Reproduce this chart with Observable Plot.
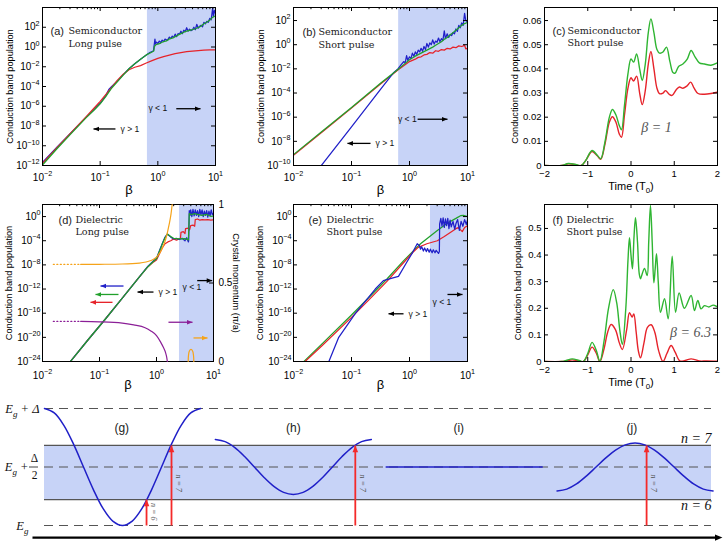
<!DOCTYPE html>
<html>
<head>
<meta charset="utf-8">
<script src="https://cdn.jsdelivr.net/npm/d3@7"></script>
<script src="https://cdn.jsdelivr.net/npm/@observablehq/plot@0.6"></script>
<style>
  html, body { margin: 0; padding: 0; background: #fff; }
  #fig { position: relative; width: 724px; height: 541px; overflow: hidden; background: #fff; }
  #fig svg { position: absolute; overflow: visible; }
</style>
</head>
<body>
<div id="fig"></div>
<script>
// ---------- data: [log10 β, log10 population] ----------
// (a) semiconductor, long pulse
const aBlue = [[-2,-11.7],[-1.75,-10.15],[-1.5,-8.65],[-1.25,-7.15],[-1.1,-6.3],[-1.0,-5.7],[-0.9,-4.9],[-0.85,-4.3],[-0.8,-4.0],[-0.7,-3.45],[-0.6,-2.8],[-0.5,-2.2],[-0.4,-1.7],[-0.3,-1.25],[-0.2,-0.8],[-0.15,-0.6],[-0.1,-0.45],[-0.075,-0.38],[-0.06,0.35],[-0.05,0.8],[-0.04,0.3],[-0.025,0.5],[0,0.35],[0.025,0.6],[0.05,0.45],[0.075,0.7],[0.1,0.55],[0.125,0.8],[0.15,0.7],[0.175,0.75],[0.2,1.0],[0.225,0.85],[0.25,1.1],[0.275,0.95],[0.3,1.3],[0.325,1.05],[0.35,1.35],[0.375,1.3],[0.4,1.6],[0.425,1.35],[0.45,1.7],[0.475,1.55],[0.5,1.95],[0.525,1.6],[0.55,1.8],[0.575,1.65],[0.6,1.75],[0.625,2.0],[0.65,1.75],[0.675,2.3],[0.7,1.9],[0.725,2.1],[0.75,2.2],[0.775,2.05],[0.8,2.5],[0.825,2.35],[0.85,2.6],[0.875,2.5],[0.9,2.9],[0.925,2.75],[0.95,3.9],[0.965,3.1],[0.98,3.7],[1.0,3.4]];
const aRed = [[-2,-11.8],[-1.75,-10.2],[-1.5,-8.65],[-1.25,-7.1],[-1.1,-6.15],[-1.0,-5.5],[-0.9,-4.8],[-0.8,-4.1],[-0.7,-3.35],[-0.6,-2.75],[-0.5,-2.3],[-0.4,-2.05],[-0.3,-1.88],[-0.2,-1.62],[-0.1,-1.38],[0,-1.15],[0.1,-0.97],[0.2,-0.82],[0.3,-0.68],[0.4,-0.57],[0.5,-0.48],[0.6,-0.41],[0.7,-0.36],[0.8,-0.32],[0.9,-0.3],[1.0,-0.3]];
const aGreen = [[-2,-11.95],[-1.75,-10.3],[-1.5,-8.75],[-1.25,-7.2],[-1.1,-6.35],[-1.0,-5.75],[-0.9,-5.0],[-0.8,-4.15],[-0.7,-3.5],[-0.6,-2.85],[-0.5,-2.2],[-0.4,-1.7],[-0.3,-1.25],[-0.2,-0.8],[-0.1,-0.5],[-0.07,-0.4],[-0.06,0.05],[-0.04,0.2],[0,0.3],[0.05,0.4],[0.1,0.55],[0.15,0.62],[0.2,0.82],[0.25,0.9],[0.3,1.05],[0.35,1.2],[0.4,1.35],[0.45,1.5],[0.5,1.6],[0.55,1.68],[0.6,1.75],[0.65,1.85],[0.7,1.98],[0.75,2.12],[0.8,2.35],[0.85,2.5],[0.9,2.72],[0.95,3.0],[1.0,3.15]];

// (b) semiconductor, short pulse
const bBlue = [[-1.52,-10],[-1.0,-6.8],[-0.5,-3.7],[-0.27,-2.3],[-0.2,-2.0],[-0.15,-1.7],[-0.1,-1.4],[-0.075,-1.5],[-0.05,-0.9],[-0.03,-1.3],[0,-1.0],[0.025,-1.15],[0.05,-0.7],[0.075,-0.95],[0.1,-0.6],[0.125,-0.8],[0.15,-0.45],[0.175,-0.6],[0.2,-0.3],[0.225,-0.55],[0.25,-0.15],[0.275,-0.4],[0.3,0.1],[0.325,-0.2],[0.35,0.15],[0.375,0.0],[0.4,0.4],[0.425,0.05],[0.45,0.3],[0.475,0.2],[0.5,0.55],[0.525,0.25],[0.55,0.5],[0.575,0.35],[0.6,1.15],[0.62,0.5],[0.65,0.9],[0.675,0.6],[0.7,0.85],[0.725,0.75],[0.75,1.0],[0.775,0.9],[0.8,1.3],[0.825,1.1],[0.85,1.6],[0.875,1.4],[0.9,1.8],[0.925,1.6],[0.95,2.6],[0.97,2.0],[1.0,1.9]];
const bRed = [[-2,-9.15],[-1.5,-7.2],[-1,-5.25],[-0.5,-3.25],[-0.2,-2.1],[-0.1,-1.75],[0,-1.4],[0.05,-1.3],[0.1,-1.2],[0.15,-1.05],[0.2,-1.0],[0.25,-0.85],[0.3,-0.8],[0.35,-0.65],[0.4,-0.7],[0.45,-0.5],[0.5,-0.55],[0.55,-0.4],[0.6,-0.45],[0.65,-0.3],[0.7,-0.35],[0.75,-0.2],[0.8,-0.25],[0.85,-0.1],[0.9,-0.15],[0.95,-0.05],[0.97,-0.35],[1.0,-0.3]];
const bGreen = [[-2,-9.1],[-1.5,-7.15],[-1,-5.2],[-0.5,-3.2],[-0.2,-2.05],[-0.1,-1.65],[0,-1.25],[0.1,-0.95],[0.2,-0.7],[0.3,-0.45],[0.4,-0.2],[0.45,-0.05],[0.5,0.1],[0.55,0.25],[0.6,0.45],[0.65,0.6],[0.7,0.8],[0.75,1.0],[0.8,1.2],[0.85,1.4],[0.9,1.6],[0.95,1.75],[1.0,1.85]];

// (d) dielectric, long pulse
const dRed = [[-1.51,-24],[-1.2,-20.4],[-0.9,-17],[-0.6,-13.5],[-0.3,-10],[-0.15,-8.3],[-0.05,-7.5],[0.0,-7.2],[0.05,-6.2],[0.1,-5.2],[0.15,-4.5],[0.2,-4.2],[0.25,-4.0],[0.3,-3.7],[0.35,-3.9],[0.4,-3.7],[0.42,-3.6],[0.43,-2.6],[0.47,-2.5],[0.5,-2.8],[0.51,-2.0],[0.56,-1.9],[0.58,-2.2],[0.6,-1.5],[0.64,-1.4],[0.67,-1.6],[0.68,-0.5],[0.72,-0.4],[0.76,-0.6],[0.8,-0.5],[0.85,-0.55],[0.9,-0.5],[0.95,-0.6],[1.0,-0.55]];
const dBlue = [[-1.51,-24],[-1.2,-20.4],[-0.9,-17],[-0.6,-13.5],[-0.3,-10],[-0.15,-8.2],[-0.05,-7.3],[0.0,-6.9],[0.05,-5.7],[0.1,-4.5],[0.15,-3.4],[0.19,-2.9],[0.25,-3.4],[0.3,-3.7],[0.35,-3.6],[0.4,-3.8],[0.45,-3.6],[0.5,-4.0],[0.53,-3.5],[0.56,-4.2],[0.565,-3.9],[0.575,1.0],[0.59,0.2],[0.6,1.1],[0.62,0.0],[0.64,1.2],[0.66,0.1],[0.68,1.1],[0.7,0.2],[0.72,1.0],[0.74,0.0],[0.76,1.2],[0.78,0.3],[0.8,1.1],[0.82,0.0],[0.84,0.9],[0.86,0.2],[0.88,1.0],[0.9,-0.1],[0.92,0.9],[0.94,0.1],[0.96,1.1],[0.98,0.3],[1.0,0.5]];
const dGreen = [[-1.51,-24],[-1.2,-20.4],[-0.9,-17],[-0.6,-13.5],[-0.3,-10],[-0.15,-8.3],[-0.05,-7.4],[0.0,-7.0],[0.05,-5.8],[0.1,-4.6],[0.15,-3.5],[0.19,-2.9],[0.25,-3.3],[0.3,-3.6],[0.4,-3.7],[0.5,-3.65],[0.56,-3.85],[0.575,0.5],[0.62,0.3],[0.66,0.5],[0.72,0.35],[0.8,0.2],[0.88,0.35],[0.95,0.05],[1.0,0.1]];
// crystal momentum (π/a), right-hand axis of (d): [log10 β, k]
const dOrangeDotted = [[-1.81,0.618],[-1.33,0.618]];
const dOrange = [[-1.33,0.618],[-1.0,0.619],[-0.6,0.621],[-0.3,0.627],[-0.1,0.643],[0.0,0.665],[0.1,0.72],[0.17,0.79],[0.22,0.87],[0.255,0.94],[0.275,1.0]];
const dOrangeLate = [[0.556,0],[0.56,0.035],[0.575,0.065],[0.605,0.078],[0.635,0.065],[0.65,0.035],[0.655,0]];
const dPurpleDotted = [[-1.81,0.255],[-1.33,0.255]];
const dPurple = [[-1.33,0.255],[-1.0,0.253],[-0.6,0.245],[-0.4,0.233],[-0.2,0.215],[-0.1,0.195],[0.0,0.165],[0.07,0.125],[0.12,0.09],[0.16,0.055],[0.18,0.025],[0.19,0.0]];

// (e) dielectric, short pulse
const eGreen = [[-1.82,-24],[-1.5,-21],[-1.0,-16.3],[-0.7,-13.4],[-0.385,-10.3],[-0.1,-7.3],[0.19,-4.5],[0.48,-2.3],[0.65,-1.1],[0.8,-0.3],[0.88,0.15],[0.93,0.2],[1.0,0.0]];
const eRed = [[-1.8,-24],[-1.5,-21.3],[-1.0,-16.7],[-0.7,-13.8],[-0.385,-10.7],[-0.1,-7.6],[0.05,-6.0],[0.15,-5.1],[0.3,-4.5],[0.48,-4.0],[0.6,-3.3],[0.71,-2.6],[0.8,-2.0],[0.84,-1.8],[0.88,-2.2],[0.91,-2.5],[0.95,-1.8],[1.0,-1.5]];
const eBlue = [[-1.39,-24],[-1.22,-20],[-0.93,-16],[-0.59,-12],[-0.45,-10.6],[-0.3,-10.2],[-0.19,-9.9],[-0.05,-7.6],[0.05,-6.0],[0.133,-4.5],[0.17,-4.8],[0.19,-5.4],[0.21,-5.0],[0.24,-5.7],[0.26,-5.2],[0.29,-5.8],[0.31,-5.3],[0.34,-5.9],[0.36,-5.4],[0.39,-6.0],[0.41,-5.5],[0.44,-6.0],[0.46,-5.6],[0.5,-6.1],[0.515,-5.8],[0.52,-1.2],[0.54,-0.3],[0.56,-1.6],[0.58,-0.2],[0.6,-1.8],[0.62,-0.4],[0.64,-1.5],[0.66,-0.3],[0.68,-2.0],[0.7,-0.6],[0.72,-1.7],[0.75,-0.8],[0.78,-2.1],[0.8,-1.2],[0.83,-0.5],[0.86,-2.3],[0.89,-0.8],[0.92,-1.6],[0.95,-0.5],[0.98,-1.3],[1.0,-0.6]];

// β at which γ = 1 (start of the shaded tunnelling region)
const gammaOne = {a: 0.66, b: 0.65, d: 2.53, e: 2.3};

// ---------- data: [time (T0), population] ----------
const cGreen = [[-2,0],[-1.6,0],[-1.45,0.0008],[-1.3,0.0005],[-1.15,0],[-1.05,0.002],[-0.9,0.0062],[-0.78,0.0042],[-0.7,0.0028],[-0.6,0.01],[-0.5,0.02],[-0.43,0.0232],[-0.35,0.021],[-0.27,0.0165],[-0.22,0.0148],[-0.15,0.025],[-0.07,0.038],[0,0.0441],[0.06,0.0428],[0.13,0.0462],[0.2,0.04],[0.26,0.0352],[0.33,0.042],[0.4,0.055],[0.46,0.0607],[0.53,0.055],[0.6,0.048],[0.66,0.0465],[0.74,0.047],[0.82,0.049],[0.9,0.043],[0.97,0.0385],[1.02,0.0382],[1.1,0.041],[1.2,0.042],[1.3,0.044],[1.39,0.0476],[1.48,0.045],[1.58,0.0425],[1.7,0.042],[1.85,0.0415],[2,0.0425]];
const cRed = [[-2,0],[-1.6,0],[-1.45,0.0007],[-1.3,0.0004],[-1.15,0],[-1.05,0.002],[-0.9,0.0058],[-0.78,0.004],[-0.7,0.0026],[-0.6,0.009],[-0.5,0.018],[-0.43,0.0202],[-0.35,0.018],[-0.27,0.013],[-0.22,0.0117],[-0.15,0.021],[-0.07,0.032],[0,0.0363],[0.06,0.035],[0.13,0.037],[0.2,0.03],[0.26,0.0252],[0.33,0.031],[0.4,0.042],[0.46,0.0472],[0.53,0.04],[0.6,0.032],[0.66,0.0297],[0.74,0.03],[0.8,0.031],[0.88,0.0295],[0.95,0.029],[1.05,0.0315],[1.12,0.0325],[1.2,0.032],[1.3,0.033],[1.38,0.0345],[1.46,0.032],[1.55,0.0298],[1.7,0.0295],[1.85,0.0298],[2,0.0304]];
const fGreen = [[-2,0],[-1.6,0],[-1.5,0.004],[-1.36,0.01],[-1.2,0.004],[-1.1,0],[-1.0,0.03],[-0.9,0.072],[-0.8,0.04],[-0.72,0],[-0.62,0.08],[-0.52,0.2],[-0.41,0.27],[-0.33,0.22],[-0.26,0.12],[-0.2,0.064],[-0.12,0.2],[-0.07,0.38],[-0.035,0.465],[0.0,0.4],[0.034,0.348],[0.07,0.47],[0.104,0.54],[0.15,0.45],[0.19,0.33],[0.22,0.311],[0.26,0.33],[0.313,0.35],[0.374,0.323],[0.41,0.45],[0.45,0.586],[0.49,0.45],[0.528,0.296],[0.56,0.35],[0.59,0.405],[0.63,0.3],[0.682,0.185],[0.775,0.236],[0.86,0.16],[0.952,0.396],[1.03,0.185],[1.113,0.258],[1.235,0.2],[1.39,0.248],[1.467,0.191],[1.545,0.229],[1.62,0.198],[1.7,0.21],[1.8,0.205],[1.9,0.212],[2,0.205]];
const fRed = [[-2,0],[-1.6,0],[-1.5,0.002],[-1.36,0.006],[-1.2,0.002],[-1.1,0],[-1.0,0.025],[-0.9,0.054],[-0.8,0.03],[-0.72,0],[-0.62,0.05],[-0.54,0.11],[-0.46,0.139],[-0.36,0.12],[-0.27,0.07],[-0.2,0.045],[-0.1,0.12],[-0.035,0.183],[0.027,0.167],[0.065,0.179],[0.12,0.11],[0.17,0.04],[0.22,0.014],[0.3,0.07],[0.38,0.128],[0.466,0.138],[0.55,0.11],[0.64,0.04],[0.74,0.0],[0.83,0.03],[0.928,0.06],[1.02,0.035],[1.13,0.002],[1.25,0.004],[1.39,0.01],[1.48,0.007],[1.58,0.002],[1.75,0.002],[2,0.001]];

// ---------- schematic bands: energy in units of Δ above E_g ----------
const kGrid = [-1,-0.875,-0.75,-0.625,-0.5,-0.375,-0.25,-0.125,0,0.125,0.25,0.375,0.5,0.625,0.75,0.875,1];
const gBand = [1,0.962,0.854,0.691,0.5,0.309,0.146,0.038,0,0.038,0.146,0.309,0.5,0.691,0.854,0.962,1];
const hBand = [0.735,0.717,0.666,0.59,0.5,0.41,0.334,0.283,0.265,0.283,0.334,0.41,0.5,0.59,0.666,0.717,0.735];
const iBand = [0.5,0.5,0.5,0.5,0.5,0.5,0.5,0.5,0.5,0.5,0.5,0.5,0.5,0.5,0.5,0.5,0.5];
const jBand = [0.295,0.311,0.355,0.422,0.5,0.578,0.645,0.689,0.705,0.689,0.645,0.578,0.5,0.422,0.355,0.311,0.295];
const photonLevels = {n6: 0.222, n7: 0.684};
const zoneNames = ["(g)", "(h)", "(i)", "(j)"];
// pump transitions: zone index, crystal momentum, photon number
const pumps = [{zone: 0, k: 0.308, n: 6}, {zone: 0, k: 0.628, n: 7}, {zone: 1, k: 0.794, n: 7}, {zone: 3, k: 0.148, n: 7}];

// ---------- styling ----------
const SANS = '"Liberation Sans", Arial, Helvetica, sans-serif';
const SERIF = '"DejaVu Serif", "Liberation Serif", serif';
const MATHF = '"Liberation Serif", "DejaVu Serif", serif';
const C = {red: "#e6232a", green: "#21a02b", blue: "#2020c8", orange: "#f5a31a", purple: "#8b1f97",
           shade: "#c7d3f7", tGreen: "#2fb532", pump: "#f42a2a"};

const fig = document.getElementById("fig");
const E10 = e => Math.pow(10, e);
const logPts = arr => arr.map(([lb, ln]) => ({x: E10(lb), y: E10(ln)}));
const logLin = arr => arr.map(([lb, v]) => ({x: E10(lb), y: v}));
const linPts = arr => arr.map(([x, y]) => ({x, y}));
const supFmt = d => "10^{" + String(Math.round(Math.log10(d))).replace("-", "\u2212") + "}";
const plainFmt = d => String(d).replace("-", "\u2212");
const betaTicks = [0.01, 0.1, 1, 10];
const betaMinor = [0.02,0.03,0.04,0.05,0.06,0.07,0.08,0.09,0.2,0.3,0.4,0.5,0.6,0.7,0.8,0.9,2,3,4,5,6,7,8,9];

// turn ^{..} and _{..} into raised / lowered tspans
function richText(svg) {
  svg.querySelectorAll("text").forEach(el => {
    const s = el.textContent;
    if (!/[\^_]\{/.test(s) || el.querySelector("tspan")) return;
    el.textContent = "";
    const add = (str, size, dy) => {
      const t = document.createElementNS("http://www.w3.org/2000/svg", "tspan");
      if (size) t.setAttribute("font-size", size);
      if (dy) t.setAttribute("dy", dy + "em");
      t.textContent = str;
      el.appendChild(t);
    };
    const re = /([\^_])\{([^}]*)\}/g;
    let last = 0, shift = 0, m;
    while ((m = re.exec(s))) {
      if (m.index > last) { add(s.slice(last, m.index), null, -shift); shift = 0; }
      const d = m[1] === "^" ? -0.62 : 0.45;
      add(m[2], "72%", d);
      shift = d * 0.72;
      last = re.lastIndex;
    }
    if (last < s.length) add(s.slice(last), null, -shift);
  });
}

function place(svg, left, top) {
  svg.style.left = left + "px";
  svg.style.top = top + "px";
  fig.appendChild(svg);
  richText(svg);
}

// arrowhead whose tip sits on the anchor point
function triangle(dir) {
  return {draw(ctx, size) {
    const l = Math.sqrt(size), h = l * 0.42;
    const p = {right: [[-l, -h], [-l, h]], left: [[l, -h], [l, h]], up: [[-h, l], [h, l]]}[dir];
    ctx.moveTo(0, 0); ctx.lineTo(p[0][0], p[0][1]); ctx.lineTo(p[1][0], p[1][1]); ctx.closePath();
  }};
}

function hArrows(list) {
  return list.flatMap(a => [
    Plot.link([a], {x1: d => E10(d.from), x2: d => E10(d.to), y1: d => E10(d.at), y2: d => E10(d.at),
                    stroke: a.color || "#000", strokeWidth: 1.3}),
    Plot.dot([a], {x: d => E10(d.to), y: d => E10(d.at), r: 3.1, symbol: triangle(a.to > a.from ? "right" : "left"),
                   fill: a.color || "#000", stroke: "none"})
  ]);
}

function inward({xT, yT, xMinor, fw, fh, len = 4, minor = 2.2, mirrorX = true, mirrorY = true}) {
  const o = {stroke: "#000", strokeWidth: 1};
  const m = [];
  if (xT) {
    m.push(Plot.tickX(xT, {x: d => d, insetTop: fh - len, ...o}));
    if (mirrorX) m.push(Plot.tickX(xT, {x: d => d, insetBottom: fh - len, ...o}));
  }
  if (xMinor) m.push(Plot.tickX(xMinor, {x: d => d, insetBottom: fh - minor, ...o}));
  if (yT) {
    m.push(Plot.tickY(yT, {y: d => d, insetRight: fw - len, ...o}));
    if (mirrorY) m.push(Plot.tickY(yT, {y: d => d, insetLeft: fw - len, ...o}));
  }
  return m;
}

function titleMarks([tag, l1, l2, dxTag, dxTxt, dy1, dy2]) {
  const o = {frameAnchor: "top-left", textAnchor: "start", fill: "#222"};
  return [
    Plot.text([tag], {...o, dx: dxTag, dy: dy1, fontSize: 11, fontFamily: SANS}),
    Plot.text([l1], {...o, dx: dxTxt, dy: dy1, fontSize: 9.6, fontFamily: SERIF}),
    Plot.text([l2], {...o, dx: dxTxt, dy: dy2, fontSize: 9.6, fontFamily: SERIF})
  ];
}

const yTitle = dx => Plot.text(["Conduction band population"],
  {frameAnchor: "left", textAnchor: "middle", rotate: -90, dx, fontSize: 9.2});

function logPanel(o) {
  const fw = o.width - o.mL - o.mR, fh = o.height - o.mT - o.mB;
  const yT = o.yExp.map(E10);
  return Plot.plot({
    width: o.width, height: o.height,
    marginLeft: o.mL, marginRight: o.mR, marginTop: o.mT, marginBottom: o.mB,
    x: {type: "log", domain: [0.01, 10]},
    y: {type: "log", domain: o.yDomain},
    style: {fontFamily: SANS, fontSize: "10px", background: "none", overflow: "visible", color: "#000"},
    marks: [
      Plot.rect([o.gamma], {x1: d => d, x2: () => 10, y1: () => o.yDomain[0], y2: () => o.yDomain[1], fill: C.shade}),
      ...o.lines.map(s => Plot.line(logPts(s.data), {x: "x", y: "y", stroke: s.color, strokeWidth: 1.25, clip: true})),
      ...hArrows(o.arrows),
      ...o.notes.map(n => Plot.text([n], {x: d => E10(d.x), y: d => E10(d.y), text: d => d.text,
                                          textAnchor: "start", fontSize: 8.6, fill: "#111"})),
      ...inward({xT: betaTicks, yT, xMinor: betaMinor, fw, fh, mirrorY: o.mirrorY}),
      Plot.frame({stroke: "#000"}),
      Plot.axisX({ticks: betaTicks, tickFormat: supFmt, tickSize: 0, tickPadding: o.xPad, label: null, fontSize: 10}),
      Plot.axisY({ticks: yT, tickFormat: supFmt, tickSize: 0, tickPadding: o.yPad, label: null, fontSize: 10}),
      Plot.text(["β"], {frameAnchor: "bottom", dy: o.betaDy, fontSize: 13}),
      yTitle(o.ylabDx),
      ...titleMarks(o.title),
      ...(o.extra || [])
    ]
  });
}

function timePanel(o) {
  const fw = o.width - o.mL - o.mR, fh = o.height - o.mT - o.mB;
  const tT = [-2, -1, 0, 1, 2];
  return Plot.plot({
    width: o.width, height: o.height,
    marginLeft: o.mL, marginRight: o.mR, marginTop: o.mT, marginBottom: o.mB,
    x: {domain: [-2, 2]},
    y: {domain: [0, o.yMax]},
    style: {fontFamily: SANS, fontSize: "10px", background: "none", overflow: "visible", color: "#000"},
    marks: [
      Plot.line(linPts(o.red), {x: "x", y: "y", stroke: C.red, strokeWidth: 1.4, curve: "catmull-rom", clip: true}),
      Plot.line(linPts(o.green), {x: "x", y: "y", stroke: C.tGreen, strokeWidth: 1.4, curve: "catmull-rom", clip: true}),
      ...inward({xT: tT, yT: o.yT, fw, fh}),
      Plot.frame({stroke: "#000"}),
      Plot.axisX({ticks: tT, tickFormat: plainFmt, tickSize: 0, tickPadding: o.xPad, label: null, fontSize: 9.5}),
      Plot.axisY({ticks: o.yT, tickFormat: plainFmt, tickSize: 0, tickPadding: 3, label: null, fontSize: 9.5}),
      Plot.text(["Time (T_{0})"], {frameAnchor: "bottom", dy: o.timeDy, fontSize: 11}),
      yTitle(o.ylabDx),
      ...titleMarks(o.title),
      Plot.text([o.beta], {x: o.betaAt[0], y: o.betaAt[1], fontFamily: MATHF, fontStyle: "italic", fontSize: 14, fill: "#555"})
    ]
  });
}

// ---------- row 1 ----------
place(logPanel({
  width: 240, height: 200, mL: 42, mR: 25, mT: 7, mB: 35,
  yDomain: [1e-12, 1e4], yExp: [-12, -10, -8, -6, -4, -2, 0, 2], gamma: gammaOne.a,
  lines: [{data: aBlue, color: C.blue}, {data: aRed, color: C.red}, {data: aGreen, color: C.green}],
  arrows: [{from: -0.735, to: -1.116, at: -8.3}, {from: 0.32, to: 0.74, at: -6.25}],
  notes: [{text: "γ > 1", x: -0.648, y: -8.3}, {text: "γ < 1", x: -0.163, y: -6.25}],
  xPad: 8, yPad: 3, betaDy: 28, ylabDx: -32, mirrorY: true,
  title: ["(a)", "Semiconductor", "Long pulse", 8, 26, 20, 33]
}), 0, 0);

place(logPanel({
  width: 240, height: 200, mL: 53, mR: 13, mT: 7, mB: 35,
  yDomain: [1e-10, 1.2e3], yExp: [-10, -8, -6, -4, -2, 0, 2], gamma: gammaOne.b,
  lines: [{data: bRed, color: C.red}, {data: bBlue, color: C.blue}, {data: bGreen, color: C.green}],
  arrows: [{from: -0.672, to: -1.07, at: -8.17}, {from: 0.14, to: 0.655, at: -6.17}],
  notes: [{text: "γ > 1", x: -0.586, y: -8.17}, {text: "γ < 1", x: -0.2, y: -6.17}],
  xPad: 8, yPad: 3, betaDy: 28, ylabDx: -32, mirrorY: true,
  title: ["(b)", "Semiconductor", "Short pulse", 9, 25, 21, 34]
}), 240, 0);

place(timePanel({
  width: 244, height: 200, mL: 64, mR: 7, mT: 7, mB: 35,
  yMax: 0.0654, yT: [0, 0.01, 0.02, 0.03, 0.04, 0.05, 0.06],
  red: cRed, green: cGreen, xPad: 5, timeDy: 24, ylabDx: -29,
  title: ["(c)", "Semiconductor", "Short pulse", 8, 23, 20, 32],
  beta: "β = 1", betaAt: [0.59, 0.0157]
}), 480, 0);

// ---------- row 2 ----------
const dFw = 240 - 42 - 27;
place(logPanel({
  width: 240, height: 200, mL: 42, mR: 27, mT: 9, mB: 34,
  yDomain: [1e-24, 1e2], yExp: [-24, -20, -16, -12, -8, -4, 0], gamma: gammaOne.d,
  lines: [{data: dRed, color: C.red}, {data: dBlue, color: C.blue}, {data: dGreen, color: C.green}],
  arrows: [
    {from: -0.053, to: -0.333, at: -12.5}, {from: 0.714, to: 0.977, at: -10.6},
    {from: -0.579, to: -0.982, at: -11.5, color: C.blue},
    {from: -0.667, to: -1.07, at: -12.9, color: C.green},
    {from: -0.772, to: -1.158, at: -14.2, color: C.red},
    {from: 0.21, to: 0.632, at: -17.5, color: C.purple},
    {from: 0.649, to: 0.895, at: -20.1, color: C.orange}
  ],
  notes: [{text: "γ > 1", x: 0.035, y: -12.5}, {text: "γ < 1", x: 0.456, y: -11.7}],
  xPad: 10, yPad: 2, betaDy: 27, ylabDx: -33, mirrorY: false,
  title: ["(d)", "Dielectric", "Long pulse", 16, 33, 12, 24]
}), 0, 195);

// crystal momentum on the right-hand axis of (d)
place(Plot.plot({
  width: 240, height: 200, marginLeft: 42, marginRight: 27, marginTop: 9, marginBottom: 34,
  x: {type: "log", domain: [0.01, 10], axis: null},
  y: {domain: [0, 1]},
  style: {fontFamily: SANS, fontSize: "10px", background: "none", overflow: "visible", color: "#000"},
  marks: [
    Plot.line(logLin(dOrangeDotted), {x: "x", y: "y", stroke: C.orange, strokeWidth: 1.2, strokeDasharray: "1,2.5"}),
    Plot.line(logLin(dPurpleDotted), {x: "x", y: "y", stroke: C.purple, strokeWidth: 1.2, strokeDasharray: "1,2.5"}),
    Plot.line(logLin(dOrange), {x: "x", y: "y", stroke: C.orange, strokeWidth: 1.2, curve: "monotone-x"}),
    Plot.line(logLin(dOrangeLate), {x: "x", y: "y", stroke: C.orange, strokeWidth: 1.2, curve: "catmull-rom"}),
    Plot.line(logLin(dPurple), {x: "x", y: "y", stroke: C.purple, strokeWidth: 1.2, curve: "monotone-x"}),
    Plot.tickY([0, 0.5, 1], {y: d => d, insetLeft: dFw - 4, stroke: "#000"}),
    Plot.axisY({anchor: "right", ticks: [0, 0.5, 1], tickFormat: d => String(d), tickSize: 0, tickPadding: 5, label: null, fontSize: 10}),
    Plot.text(["Crystal momentum (π/a)"], {frameAnchor: "right", textAnchor: "middle", rotate: 90, dx: 22, fontSize: 9.2})
  ]
}), 0, 195);

place(logPanel({
  width: 240, height: 200, mL: 53, mR: 13, mT: 9, mB: 34,
  yDomain: [1e-24, 1e2], yExp: [-24, -20, -16, -12, -8, -4, 0], gamma: gammaOne.e,
  lines: [{data: eGreen, color: C.green}, {data: eRed, color: C.red}, {data: eBlue, color: C.blue}],
  arrows: [{from: -0.103, to: -0.362, at: -16.1}, {from: 0.655, to: 0.914, at: -12.9}],
  notes: [{text: "γ > 1", x: -0.017, y: -16.1}, {text: "γ < 1", x: 0.397, y: -14.2}],
  xPad: 10, yPad: 2, betaDy: 27, ylabDx: -33, mirrorY: true,
  title: ["(e)", "Dielectric", "Short pulse", 15, 33, 12, 24]
}), 240, 195);

place(timePanel({
  width: 244, height: 200, mL: 64, mR: 7, mT: 9, mB: 34,
  yMax: 0.59, yT: [0, 0.1, 0.2, 0.3, 0.4, 0.5],
  red: fRed, green: fGreen, xPad: 5, timeDy: 24, ylabDx: -26,
  title: ["(f)", "Dielectric", "Short pulse", 8, 22, 12, 24],
  beta: "β = 6.3", betaAt: [1.376, 0.109]
}), 480, 195);

// ---------- schematic of the band / photon-level picture ----------
const zoneCenter = [0, 2.19, 4.38, 6.57];
const bands = [gBand, hBand, iBand, jBand];
const bandPts = bands.flatMap((b, z) => kGrid.map((k, i) => ({zone: z, x: zoneCenter[z] + k, E: b[i]})));
const pumpPts = pumps.map(p => ({...p, x: zoneCenter[p.zone] + p.k, level: p.n === 6 ? photonLevels.n6 : photonLevels.n7}));
const xL = -1, xR = 7.55;
const mathText = {fontFamily: MATHF, fontStyle: "italic", fill: "#111"};

place(Plot.plot({
  width: 724, height: 146, marginLeft: 44, marginRight: 13, marginTop: 13, marginBottom: 16,
  x: {domain: [xL, xR], axis: null},
  y: {domain: [0, 1], axis: null},
  style: {fontFamily: SANS, fontSize: "12px", background: "none", overflow: "visible", color: "#000"},
  marks: [
    Plot.rect([photonLevels], {x1: () => xL, x2: () => xR, y1: d => d.n6, y2: d => d.n7, fill: C.shade}),
    Plot.ruleY([photonLevels.n6, photonLevels.n7], {stroke: "#555", strokeWidth: 1.2}),
    Plot.ruleY([0, 0.5, 1], {stroke: "#555", strokeWidth: 1.2, strokeDasharray: "9,6"}),
    Plot.line(bandPts, {x: "x", y: "E", z: "zone", stroke: C.blue, strokeWidth: 1.5, curve: "catmull-rom"}),
    Plot.link(pumpPts, {x1: "x", x2: "x", y1: () => 0, y2: "level", stroke: C.pump, strokeWidth: 1.8}),
    Plot.dot(pumpPts, {x: "x", y: "level", r: 3.8, symbol: triangle("up"), fill: C.pump, stroke: "none"}),
    Plot.text(pumpPts, {x: "x", y: d => d.level * 0.53, text: d => `n = ${d.n}`, rotate: 90, dx: 7,
                        fontSize: 8, ...mathText, fill: "#555"}),
    Plot.text(zoneNames, {x: (d, i) => zoneCenter[i] - [0.01, 0.0, 0.07, 0.04][i], y: () => 0.83, fontSize: 12, fill: "#222"}),
    Plot.text(["n = 7"], {x: () => xR, y: () => 0.744, textAnchor: "end", fontSize: 14, ...mathText}),
    Plot.text(["n = 6"], {x: () => xR, y: () => 0.171, textAnchor: "end", fontSize: 14, ...mathText}),
    Plot.text(["E_{g} + Δ"], {x: () => xL, y: () => 1, dx: -5, textAnchor: "end", fontSize: 12.5, ...mathText}),
    Plot.text(["E_{g} +"], {x: () => xL, y: () => 0.5, dx: -16, textAnchor: "end", fontSize: 12.5, ...mathText}),
    Plot.text(["Δ"], {x: () => xL, y: () => 0.5, dx: -10, dy: -8.5, fontSize: 11.5, fontFamily: MATHF, fill: "#111"}),
    Plot.text(["2"], {x: () => xL, y: () => 0.5, dx: -10, dy: 8.5, fontSize: 11.5, fontFamily: MATHF, fill: "#111"}),
    Plot.tickY([0.5], {y: d => d, insetLeft: -15, insetRight: 667 + 6, stroke: "#111", strokeWidth: 0.8}),
    Plot.text(["E_{g}"], {x: () => xL, y: () => 0, dx: -16, textAnchor: "end", fontSize: 12.5, ...mathText}),
    Plot.link([0], {x1: () => -1.154, x2: () => 7.62, y1: () => -0.103, y2: () => -0.103, stroke: "#000", strokeWidth: 2.2}),
    Plot.dot([0], {x: () => 7.69, y: () => -0.103, r: 4.2, symbol: triangle("right"), fill: "#000", stroke: "none"})
  ]
}), 0, 395);
</script>
</body>
</html>
